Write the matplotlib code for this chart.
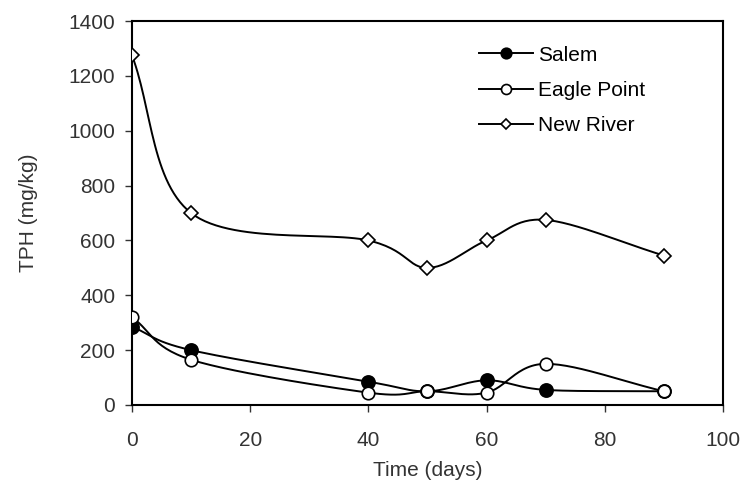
import numpy as np
import matplotlib
matplotlib.use("Agg")
import matplotlib.pyplot as plt

plt.rcParams['font.family'] = ['Liberation Sans', 'DejaVu Sans']

days = [0, 10, 40, 50, 60, 70, 90]
salem = [285, 200, 85, 50, 90, 55, 50]
eagle_point = [320, 165, 45, 50, 45, 150, 50]
new_river = [1275, 700, 600, 500, 600, 675, 545]


def smooth(x, y, n=30):
    # Catmull-Rom style curve through the points (like Excel's smoothed lines)
    x = np.asarray(x, float)
    y = np.asarray(y, float)
    px = np.concatenate([[2 * x[0] - x[1]], x, [2 * x[-1] - x[-2]]])
    py = np.concatenate([[2 * y[0] - y[1]], y, [2 * y[-1] - y[-2]]])
    xs, ys = [], []
    t = np.linspace(0, 1, n)
    for i in range(1, len(px) - 2):
        p0, p1, p2, p3 = [np.array([px[j], py[j]]) for j in range(i - 1, i + 3)]
        c1 = p1 + (p2 - p0) / 6
        c2 = p2 - (p3 - p1) / 6
        b = ((1 - t) ** 3)[:, None] * p1 + (3 * (1 - t) ** 2 * t)[:, None] * c1 \
            + (3 * (1 - t) * t ** 2)[:, None] * c2 + (t ** 3)[:, None] * p2
        xs.extend(b[:, 0])
        ys.extend(b[:, 1])
    return xs, ys


fig = plt.figure(figsize=(7.48, 4.96), dpi=100)
ax = fig.add_axes([0.1765, 0.1835, 0.790, 0.774])

series = [
    ("Salem", salem, dict(marker="o", markersize=9.5, markerfacecolor="black")),
    ("Eagle Point", eagle_point, dict(marker="o", markersize=9, markerfacecolor="white")),
    ("New River", new_river, dict(marker="D", markersize=7, markerfacecolor="white")),
]
for name, vals, style in series:
    sx, sy = smooth(days, vals)
    ax.plot(sx, sy, color="black", lw=1.4, zorder=2)
    ax.plot(days, vals, ls="none", color="black", markeredgecolor="black",
            markeredgewidth=1.2, zorder=3, **style)
    leg_style = dict(style, markersize=style["markersize"] * 0.8)
    ax.plot([], [], color="black", lw=1.4, markeredgecolor="black",
            markeredgewidth=1.2, label=name, **leg_style)

ax.set_xlim(0, 100)
ax.set_ylim(0, 1400)
ax.set_xticks(range(0, 101, 20))
ax.set_yticks(range(0, 1401, 200))
ax.tick_params(direction="out", length=5, width=1, labelsize=15, colors="#333333")
ax.tick_params(axis="x", pad=14)
ax.tick_params(axis="y", pad=7)
for s in ax.spines.values():
    s.set_linewidth(1.5)
ax.set_xlabel("Time (days)", fontsize=15, color="#333333", labelpad=8)
ax.set_ylabel("TPH (mg/kg)", fontsize=15, color="#333333", labelpad=22)

ax.legend(loc="upper left", bbox_to_anchor=(0.555, 0.985), frameon=False,
          fontsize=15, handlelength=2.6, labelspacing=0.78, handletextpad=0.25)

fig.savefig("out.png", dpi=100)
